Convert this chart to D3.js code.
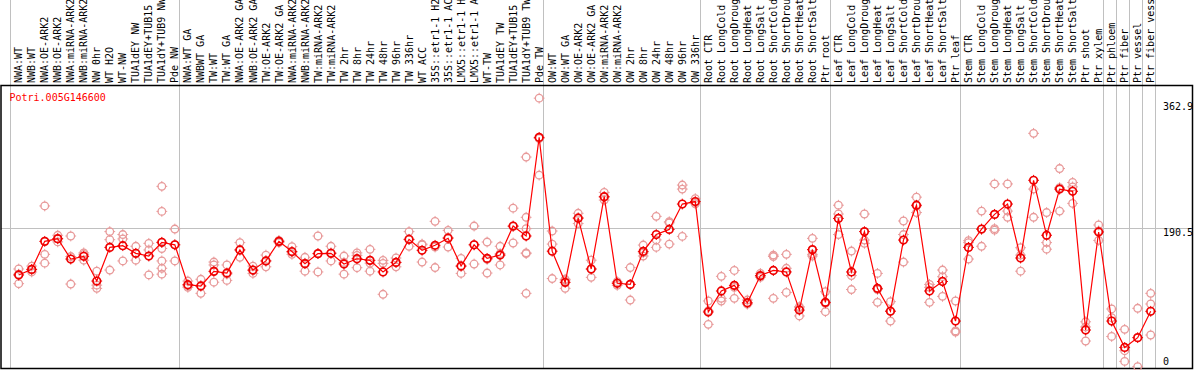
<!DOCTYPE html>
<html><head><meta charset="utf-8">
<script src="https://cdn.jsdelivr.net/npm/d3@7"></script>
<style>html,body{margin:0;padding:0;background:#fff;}svg{display:block;}</style>
</head><body>
<svg id="chart" width="1194" height="370"></svg>
<script>
const title = "Potri.005G146600";
const labels = [
"NWA:WT","NWB:WT","NWA:OE-ARK2","NWB:OE-ARK2","NWA:miRNA-ARK2","NWB:miRNA-ARK2","NW 0hr","WT H2O","WT-NW","TUA1dEY NW","TUA1dEY+TUB15 NW","TUA1dY+TUB9 NW","Pde NW",
"NWA:WT GA","NWBWT GA","TW:WT","TW:WT GA","NWA:OE-ARK2 GA","NWB:OE-ARK2 GA","TW:OE-ARK2","TW:OE-ARK2 GA","NWA:miRNA-ARK2 GA","NWB:miRNA-ARK2 GA","TW:miRNA-ARK2","TW:miRNA-ARK2 GA","TW 2hr","TW 8hr","TW 24hr","TW 48hr","TW 96hr","TW 336hr","WT ACC","35S::etr1-1 H2O","35S::etr1-1 ACC","LMX5::etr1-1 H2O","LMX5::etr1-1 ACC","WT-TW","TUA1dEY TW","TUA1dEY+TUB15 TW","TUA1dY+TUB9 TW","Pde TW",
"OW:WT","OW:WT GA","OW:OE-ARK2","OW:OE-ARK2 GA","OW:miRNA-ARK2","OW:miRNA-ARK2 GA","OW 2hr","OW 8hr","OW 24hr","OW 48hr","OW 96hr","OW 336hr",
"Root CTR","Root LongCold","Root LongDrought","Root LongHeat","Root LongSalt","Root ShortCold","Root ShortDrought","Root ShortHeat","Root ShortSalt","Ptr root",
"Leaf CTR","Leaf LongCold","Leaf LongDrought","Leaf LongHeat","Leaf LongSalt","Leaf ShortCold","Leaf ShortDrought","Leaf ShortHeat","Leaf ShortSalt","Ptr leaf",
"Stem CTR","Stem LongCold","Stem LongDrought","Stem LongHeat","Stem LongSalt","Stem ShortCold","Stem ShortDrought","Stem ShortHeat","Stem ShortSalt","Ptr shoot","Ptr xylem",
"Ptr phloem","Ptr fiber","Ptr vessel","Ptr fiber vessel"];
const groupSizes = [13,28,12,10,10,11,1,1,1,1];
const means = [126.8,134.5,172.7,176.4,148.6,152.3,118.6,164.5,166.8,156.4,152.7,171.4,168,
113.6,111.8,131.8,129.5,161,133.6,146,172.7,158.8,142.3,156,156.4,141.8,149,146.8,131,144,175.5,160.5,167.3,177,139,168,149.5,154,193.6,180,314.5,
159.3,116.8,204.3,135,233.6,115.5,114,159,182,189,223.6,227,
76.4,105,112.7,89,126,133,131,79,161.4,89.5,
204,131,186,108.6,77.3,174.5,222,105,118,64,
164.5,189.5,209.5,223.6,150,256,181,244,241,51.8,185.5,
64,28,41.4,77.3];
const reps = [[135,128,115],[139,134,131],[221,155,143],[181,176,172],[180,152,114.5],[157,155,147],[132,113,108.6],[186,175,133.6],[182,176,146],[166,156,147],[170,161,127],[247.7,213.6,171,163,146,136,128],[189.5,168,146],
[118.6,112,110],[121,112,101.8],[144.5,140.5,117],[140.5,128,119.5],[171,161,151],[139,133,129],[154,146,138],[174,172,171],[165.5,158,155],[151,143,132],[180,156,131],[166,157,146],[152.7,144,128],[157,153.6,136.8],[161.8,143,132],[146.8,142.7,100.5],[150,144,138],[186,175,166],[169,168,144.5],[200,165,137],[187.7,178,165],[149.5,139,129],[193.6,168,141.8],[171.8,148,129.5],[166,156,140.5],[218,193,170.5],[287.7,205.5,190,157,156,101.8],[368,313,263],
[186.8,169,122],[121,120,108.6],[211,205,197],[147,135,123.6],[239.5,233,229],[117.7,116,112.7],[137,114,92.7],[167.7,157,152.7],[206.8,174.7,164.5],[199.5,198,169],[249.5,244,179.5],[231,226,224],
[91.4,78,59.5],[125,95,91.4],[133,110,95],[92.7,88,87],[129,125,123.6],[154,152,95],[155,136,103],[83.6,82,71],[176.8,155,152.7],[104,88,76.8],
[222,210,182],[159.5,126,107],[210,174.5,170],[129,107,89.5],[90.5,78,64],[200.5,182,144.5],[233,221,212],[114,110,89.5],[133.6,124.5,97.7],[91.4,50.5,49],
[173.6,171,148.6],[214,189,166],[251,190,188],[251,214,205.5],[164,154,132],[320,244,205.5],[212,171,162],[272,246,214],[253,247,224.5],[63,56,36.8],[195,187,174],
[80.5,68.6,43],[52.7,23.6,9],[81.4,1.8],[101.8,87.3,45]];
const yTicks = [362.9, 190.5, 0];

const svg = d3.select("#chart");
const W = 1194, H = 370;
const plotTop = 85, plotBottom = 369, plotLeft = 1, plotRight = 1193;
const font = "'DejaVu Sans Mono', monospace";

const x = d3.scaleBand().domain(d3.range(labels.length)).range([10, 1155]).paddingInner(0).paddingOuter(0);
const off = 8.7;
const cx = i => x(i) + off;
const y = d3.scaleLinear().domain([0, 362.9]).range([368, 101.9]);

// group boundaries
const bounds = [0];
groupSizes.reduce((acc, s) => { bounds.push(acc + s); return acc + s; }, 0);

const grid = svg.append("g");
grid.selectAll("line.v").data(bounds).enter().append("line")
  .attr("x1", d => Math.round(x(0) + d * x.step()) + 0.5)
  .attr("x2", d => Math.round(x(0) + d * x.step()) + 0.5)
  .attr("y1", 0).attr("y2", plotBottom)
  .attr("stroke", "#c0c0c0").attr("stroke-width", 1);
grid.append("line")
  .attr("x1", plotLeft).attr("x2", plotRight)
  .attr("y1", Math.round(y(190.5)) + 0.5).attr("y2", Math.round(y(190.5)) + 0.5)
  .attr("stroke", "#c0c0c0").attr("stroke-width", 1);

// column labels
svg.append("g").selectAll("text").data(labels).enter().append("text")
  .attr("transform", (d, i) => `translate(${cx(i) + 3.6},83) rotate(-90)`)
  .attr("font-family", font).attr("font-size", 10).attr("fill", "#000")
  .text(d => d);

// frame
svg.append("rect").attr("x", 1).attr("y", 85.5).attr("width", 1191.5).attr("height", 283)
  .attr("fill", "none").attr("stroke", "#000").attr("stroke-width", 1.5);

// title
svg.append("text").attr("x", 9.5).attr("y", 101).attr("font-family", font).attr("font-size", 10)
  .attr("fill", "#ff0000").text(title);

// y labels
svg.append("g").selectAll("text").data(yTicks).enter().append("text")
  .attr("x", 1163).attr("y", d => d === 0 ? 365 : y(d) + 8)
  .attr("font-family", font).attr("font-size", 10).attr("fill", "#000")
  .text(d => d === 0 ? "0" : d.toFixed(1));

function marker(g, color, sw) {
  const r = 3.8;
  g.append("circle").attr("r", r).attr("fill", "none").attr("stroke", color).attr("stroke-width", sw);
  [[0,-1],[0,1],[-1,0],[1,0]].forEach(([dx, dy]) => {
    g.append("line").attr("x1", dx * (r - 0.5)).attr("y1", dy * (r - 0.5))
      .attr("x2", dx * (r + 1.6)).attr("y2", dy * (r + 1.6))
      .attr("stroke", color).attr("stroke-width", 1);
  });
}

// replicates
const repPts = [];
reps.forEach((arr, i) => arr.forEach(v => repPts.push({i, v})));
svg.append("g").selectAll("g").data(repPts).enter().append("g")
  .attr("transform", d => `translate(${cx(d.i)},${y(d.v)})`)
  .each(function() { marker(d3.select(this), "#e89a9a", 1.3); });

// mean line
svg.append("path").datum(means)
  .attr("d", d3.line().x((d, i) => cx(i)).y(d => y(d)))
  .attr("fill", "none").attr("stroke", "#ff0000").attr("stroke-width", 1.2);

// mean markers
svg.append("g").selectAll("g").data(means).enter().append("g")
  .attr("transform", (d, i) => `translate(${cx(i)},${y(d)})`)
  .each(function() { marker(d3.select(this), "#ee0000", 1.7); });
</script>
</body></html>
